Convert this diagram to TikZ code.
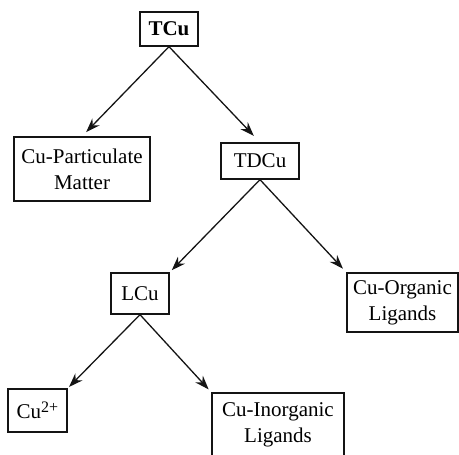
\documentclass[tikz,border=0pt]{standalone}
\usepackage{fontspec}
\setmainfont{Liberation Serif}
\usepackage{tikz}
\usetikzlibrary{arrows.meta, positioning, calc}
\definecolor{CuLine}{RGB}{20, 20, 20}

\tikzset{
  cubox/.style={draw=CuLine, line width=0.65pt, align=center, inner sep=0pt,
                font=\fontsize{10.5}{13}\selectfont},
  culink/.style={draw=CuLine, line width=0.65pt, -{Stealth[length=7pt, width=5pt]}}
}

\begin{document}
\begin{tikzpicture}[x=0.5pt, y=-0.5pt]
    \useasboundingbox (0,0) rectangle (459,454);
    \node[cubox, minimum width=29pt, minimum height=17pt, font=\fontsize{10.5}{13}\selectfont\bfseries] (TCu) at (169,29) {TCu};
    \node[cubox, minimum width=68pt, minimum height=32pt] (CuPM) at (82,169) {Cu-Particulate\\Matter};
    \node[cubox, minimum width=39pt, minimum height=18pt] (TDCu) at (260,161) {TDCu};
    \node[cubox, minimum width=29pt, minimum height=20.5pt] (LCu) at (140,293.5) {LCu};
    \node[cubox, minimum width=55.5pt, minimum height=29.5pt] (CuOL) at (402.5,302.5) {Cu-Organic\\Ligands};
    \node[cubox, minimum width=29.5pt, minimum height=21.5pt] (CuIon) at (37.5,410.5) {Cu\raisebox{0.6ex}{\fontsize{8}{9}\selectfont 2+}};
    \node[cubox, minimum width=66pt, minimum height=32pt] (CuIL) at (278,425) {Cu-Inorganic\\Ligands};

    \draw[culink, shorten >=3pt] (TCu.south) -- (CuPM.north);
    \draw[culink, shorten >=4.5pt] (TCu.south) -- (TDCu.north);
    \draw[culink, shorten >=1.5pt] (TDCu.south) -- (LCu.north east);
    \draw[culink, shorten >=2.5pt] (TDCu.south) -- (CuOL.north west);
    \draw[culink, shorten >=1pt] (LCu.south) -- (CuIon.north east);
    \draw[culink, shorten >=2pt] (LCu.south) -- (CuIL.north west);
\end{tikzpicture}
\end{document}
